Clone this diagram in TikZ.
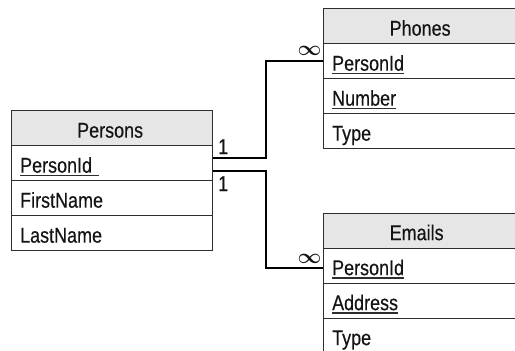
\documentclass[tikz,border=0pt]{standalone}
\usepackage{amsmath}
\usepackage{fontspec}
\setmainfont[FakeStretch=0.84,FakeBold=0.4]{Liberation Sans}
\usetikzlibrary{calc}
\definecolor{hdr}{RGB}{230,230,230}
\definecolor{ink}{RGB}{20,20,20}
\definecolor{edge}{RGB}{45,45,45}
\newcommand\ulx[1]{\setbox0\hbox{#1}\rlap{\color{edge}\rule[-3.6pt]{\wd0}{1.3pt}}\box0}
\tikzset{
  cell/.style={draw=edge, line width=1.3pt, rectangle, anchor=north west,
    minimum height=35pt, inner ysep=0pt, inner xsep=8.5pt,
    text height=19pt, text depth=0pt,
    font=\fontsize{21.4}{24}\selectfont, text=ink},
  head/.style={cell, fill=hdr, align=center},
  fld/.style={cell, align=left},
  conn/.style={draw=black, line width=2pt},
  lbl/.style={inner sep=0pt, anchor=base west, font=\fontsize{21.4}{24}\selectfont, text=ink},
  inf/.style={inner sep=0pt, anchor=center, font=\fontsize{21}{21}\selectfont, text=ink}
}
\begin{document}
\begin{tikzpicture}[x=1pt,y=-1pt]
\path[use as bounding box, clip] (0,0) rectangle (515,351);
% Persons
\node[head, text width=184pt] (pH) at (11,110) {\hspace*{-4pt}Persons};
\node[fld, text width=184pt] (pPid) at (11,145) {\ulx{PersonId\ }};
\node[fld, text width=184pt] (pFn) at (11,180) {FirstName};
\node[fld, text width=184pt] (pLn) at (11,215) {LastName};
% Phones
\node[head, text width=176pt] (phH) at (323,8) {Phones};
\node[fld, text width=176pt] (phPid) at (323,43) {\ulx{PersonId}};
\node[fld, text width=176pt] (phNum) at (323,78) {\ulx{Number}};
\node[fld, text width=176pt] (phType) at (323,113) {Type};
% Emails
\node[head, text width=176pt] (emH) at (323,212.5) {\hspace*{-7pt}Emails};
\node[fld, text width=176pt] (emPid) at (323,247.5) {\ulx{PersonId}};
\node[fld, text width=176pt] (emAdr) at (323,282.5) {\ulx{Address}};
\node[fld, text width=176pt] (emType) at (323,317.5) {Type};
% connectors
\draw[conn] ($(pPid.east)+(0,-5)$) -- ++(53,0) |- (phPid.west);
\draw[conn] ($(pPid.east)+(0,8)$) -- ++(53,0) |- ($(emPid.west)+(0,2)$);
% labels
\node[lbl] (one1) at (218,154) {1};
\node[lbl] (one2) at (218,191) {1};
\node[inf] (inf1) at (309.5,50.5) {$\boldsymbol{\infty}$};
\node[inf] (inf2) at (309.5,258.5) {$\boldsymbol{\infty}$};
\end{tikzpicture}
\end{document}
